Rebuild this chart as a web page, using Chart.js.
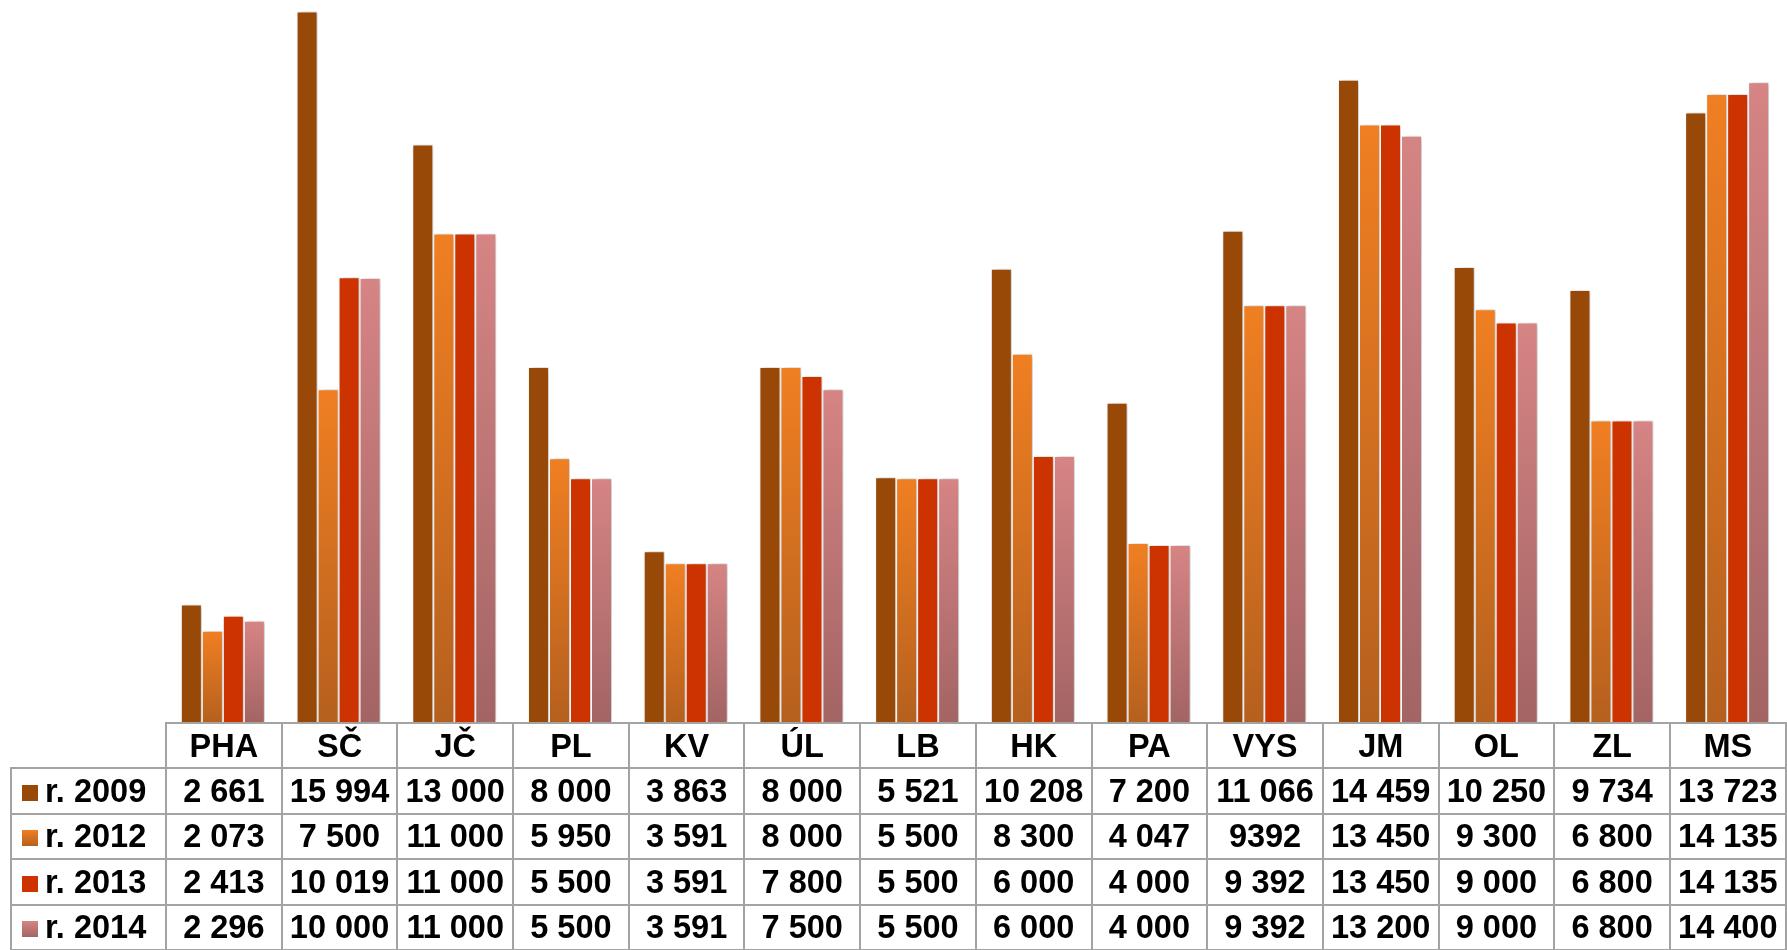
<!DOCTYPE html>
<html>
<head>
<meta charset="utf-8">
<script src="https://cdn.jsdelivr.net/npm/chart.js@4"></script>
<style>
    html, body { margin: 0; padding: 0; background: #fff; }
    body { width: 1787px; height: 950px; position: relative; overflow: hidden; }
    #chart-box { position: absolute; left: 165px; top: 0; width: 1620px; height: 723px; }
    #data-table {
        position: absolute; left: 10px; top: 722px;
        border-collapse: collapse; table-layout: fixed;
        font: bold 32.5px "Liberation Sans", Arial, sans-serif; color: #000;
    }
    #data-table td { border: 2px solid #a3a3a3; height: 43.4px; padding: 0; text-align: center; white-space: nowrap; line-height: 32px; }
    #data-table td.blank { border: none; }
    #data-table td.name { text-align: left; padding-left: 10px; }
    .mark { display: inline-block; width: 16px; height: 16px; margin-right: 7px; vertical-align: 1px; }
</style>
</head>
<body>
<div id="chart-box"><canvas id="chart"></canvas></div>
<table id="data-table"></table>
<script>
const regions = ['PHA', 'SČ', 'JČ', 'PL', 'KV', 'ÚL', 'LB', 'HK', 'PA', 'VYS', 'JM', 'OL', 'ZL', 'MS'];
const seriesNames = ['r. 2009', 'r. 2012', 'r. 2013', 'r. 2014'];
const y2009 = [2661, 15994, 13000, 8000, 3863, 8000, 5521, 10208, 7200, 11066, 14459, 10250, 9734, 13723];
const y2012 = [2073, 7500, 11000, 5950, 3591, 8000, 5500, 8300, 4047, 9392, 13450, 9300, 6800, 14135];
const y2013 = [2413, 10019, 11000, 5500, 3591, 7800, 5500, 6000, 4000, 9392, 13450, 9000, 6800, 14135];
const y2014 = [2296, 10000, 11000, 5500, 3591, 7500, 5500, 6000, 4000, 9392, 13200, 9000, 6800, 14400];
// top / bottom colour of each series
const topColors = ['#984807', '#f07f22', '#cc3300', '#d68484'];
const bottomColors = ['#984807', '#b5601e', '#cc3300', '#a36464'];
// cells printed without the thousands space in the source table
const plainCells = ['1-9'];

const allSeries = [y2009, y2012, y2013, y2014];

function barFill(i) {
    return function (context) {
        const chart = context.chart;
        if (!chart.chartArea || context.raw === undefined) return topColors[i];
        const y = chart.scales.y;
        const top = y.getPixelForValue(context.raw);
        const bottom = y.getPixelForValue(0);
        if (!isFinite(top) || top >= bottom) return topColors[i];
        const g = chart.ctx.createLinearGradient(0, top, 0, bottom);
        g.addColorStop(0, topColors[i]);
        g.addColorStop(1, bottomColors[i]);
        return g;
    };
}

const shadowPlugin = {
    id: 'barShadow',
    beforeDatasetsDraw(chart) {
        const ctx = chart.ctx;
        ctx.save();
        ctx.shadowColor = 'rgba(0,0,0,0.28)';
        ctx.shadowBlur = 5;
        ctx.shadowOffsetX = 2;
        ctx.shadowOffsetY = 0;
    },
    afterDatasetsDraw(chart) {
        chart.ctx.restore();
    }
};

new Chart(document.getElementById('chart'), {
    type: 'bar',
    data: {
        labels: regions,
        datasets: allSeries.map((data, i) => ({
            label: seriesNames[i],
            data: data,
            backgroundColor: barFill(i),
            borderColor: '#ffffff',
            borderWidth: 1,
            categoryPercentage: 0.726,
            barPercentage: 1
        }))
    },
    options: {
        responsive: true,
        maintainAspectRatio: false,
        animation: false,
        layout: { padding: 0 },
        plugins: { legend: { display: false }, tooltip: { enabled: false } },
        scales: {
            x: { display: false, offset: true },
            y: { display: false, min: 0, max: 16250 }
        }
    },
    plugins: [shadowPlugin]
});

// data table under the plot
function fmt(v) {
    return String(v).replace(/\B(?=(\d{3})+(?!\d))/g, ' ');
}

const table = document.getElementById('data-table');
const colgroup = document.createElement('colgroup');
colgroup.innerHTML = '<col style="width:155px">' + regions.map(() => '<col style="width:115.7px">').join('');
table.appendChild(colgroup);

const head = document.createElement('tr');
head.innerHTML = '<td class="blank"></td>' + regions.map(r => `<td>${r}</td>`).join('');
table.appendChild(head);

allSeries.forEach((data, i) => {
    const row = document.createElement('tr');
    const mark = `<span class="mark" style="background:linear-gradient(${topColors[i]}, ${bottomColors[i]})"></span>`;
    row.innerHTML = `<td class="name">${mark}${seriesNames[i]}</td>` +
        data.map((v, j) => `<td>${plainCells.includes(i + '-' + j) ? String(v) : fmt(v)}</td>`).join('');
    table.appendChild(row);
});
</script>
</body>
</html>
